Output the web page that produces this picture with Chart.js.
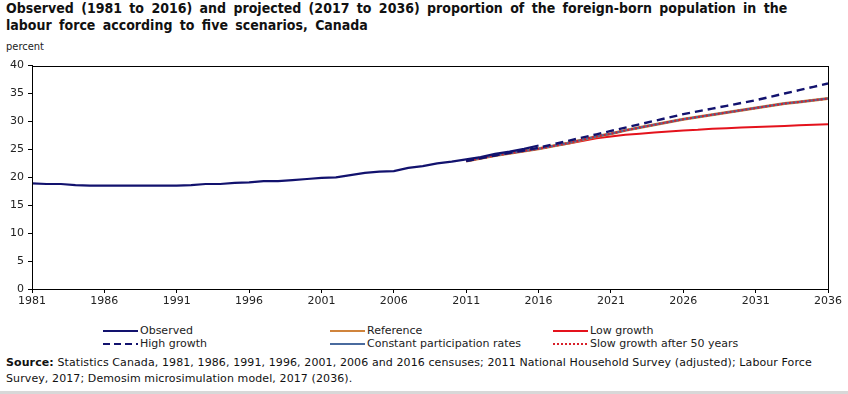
<!DOCTYPE html>
<html><head><meta charset="utf-8">
<script src="https://cdn.jsdelivr.net/npm/chart.js@4.4.1/dist/chart.umd.min.js"></script>
<style>
html,body{margin:0;padding:0;background:#fff;width:848px;height:394px;overflow:hidden;position:relative;font-family:"DejaVu Sans",Verdana,sans-serif;color:#000}
#title{position:absolute;left:6px;top:0px;width:840px;font-family:"DejaVu Sans Condensed","DejaVu Sans",sans-serif;font-weight:bold;font-size:14px;line-height:17px;color:#111;word-spacing:3px;white-space:nowrap}
#unit{position:absolute;left:6px;top:40px;font-family:"DejaVu Sans Condensed",sans-serif;font-size:11px;color:#222}
#wrap{position:absolute;left:0;top:55px;width:848px;height:260px}
#legend{position:absolute;left:0;top:324px;width:848px;height:30px;font-size:11px;color:#222}
.li{position:absolute;height:13px;line-height:13px;white-space:nowrap}
.li svg{position:absolute;left:0;top:0}
.li span{position:absolute;top:0}
#source{position:absolute;left:6px;top:355px;width:842px;font-family:"DejaVu Sans",sans-serif;font-size:11px;line-height:16px;color:#111;white-space:nowrap;letter-spacing:0.1px}
#rule{position:absolute;left:0;top:391px;width:848px;height:3px;background:#d8d8d8}
</style></head>
<body>
<div id="title">Observed (1981 to 2016) and projected (2017 to 2036) proportion of the foreign-born population in the<br>labour force according to five scenarios, Canada</div>
<div id="unit">percent</div>
<div id="wrap"><canvas id="c"></canvas></div>
<div id="legend"></div>
<div id="source"><b>Source:</b> Statistics Canada, 1981, 1986, 1991, 1996, 2001, 2006 and 2016 censuses; 2011 National Household Survey (adjusted); Labour Force<br>Survey, 2017; Demosim microsimulation model, 2017 (2036).</div>
<div id="rule"></div>
<script>
// ---- data ----
const observedYears = [1981,1982,1983,1984,1985,1986,1987,1988,1989,1990,1991,1992,1993,1994,1995,1996,1997,1998,1999,2000,2001,2002,2003,2004,2005,2006,2007,2008,2009,2010,2011,2012,2013,2014,2015,2016];
const observed = [18.9,18.8,18.8,18.6,18.5,18.5,18.5,18.5,18.5,18.5,18.5,18.6,18.8,18.8,19.0,19.1,19.3,19.3,19.5,19.7,19.9,20.0,20.4,20.8,21.0,21.1,21.7,22.0,22.5,22.8,23.2,23.6,24.2,24.6,25.1,25.7];
const projYears = [2011,2012,2013,2014,2015,2016,2017,2018,2019,2020,2021,2022,2023,2024,2025,2026,2027,2028,2029,2030,2031,2032,2033,2034,2035,2036];
const reference = [22.9,23.4,23.9,24.3,24.7,25.1,25.6,26.1,26.7,27.3,27.8,28.4,28.9,29.4,29.9,30.4,30.8,31.2,31.6,32.0,32.4,32.8,33.2,33.5,33.8,34.1];
const constantParticipation = [22.9,23.4,23.9,24.3,24.7,25.1,25.6,26.1,26.7,27.3,27.8,28.4,28.9,29.4,29.9,30.4,30.8,31.2,31.6,32.0,32.4,32.8,33.2,33.5,33.8,34.1];
const slowGrowth50 = [22.9,23.4,23.9,24.3,24.7,25.1,25.6,26.1,26.7,27.3,27.8,28.4,28.9,29.4,29.9,30.4,30.8,31.2,31.6,32.0,32.4,32.8,33.2,33.5,33.8,34.1];
const lowGrowth = [22.9,23.4,23.9,24.3,24.7,25.1,25.6,26.0,26.5,27.0,27.3,27.6,27.8,28.0,28.2,28.4,28.5,28.7,28.8,28.9,29.0,29.1,29.2,29.3,29.4,29.5];
const highGrowth = [22.9,23.4,23.9,24.4,24.8,25.3,25.9,26.5,27.1,27.7,28.3,28.9,29.5,30.1,30.7,31.3,31.8,32.3,32.8,33.3,33.8,34.4,35.0,35.6,36.2,36.8];
const xTicks = [1981,1986,1991,1996,2001,2006,2011,2016,2021,2026,2031,2036];
const yTicks = [0,5,10,15,20,25,30,35,40];

const pts = (xs, ys) => xs.map((x,i)=>({x:x, y:ys[i]}));

const series = [
  {label:'Observed', data:pts(observedYears, observed), color:'#12126e', dash:[], width:2.2, legendCol:0, legendRow:0},
  {label:'High growth', data:pts(projYears, highGrowth), color:'#12126e', dash:[8,5], width:2.4, legendCol:0, legendRow:1},
  {label:'Reference', data:pts(projYears, reference), color:'#d0843c', dash:[], width:3, legendCol:1, legendRow:0},
  {label:'Constant participation rates', data:pts(projYears, constantParticipation), color:'#4a6b9e', dash:[], width:2, legendCol:1, legendRow:1},
  {label:'Low growth', data:pts(projYears, lowGrowth), color:'#e4121c', dash:[], width:2, legendCol:2, legendRow:0},
  {label:'Slow growth after 50 years', data:pts(projYears, slowGrowth50), color:'#d8202a', dash:[2,2], width:2, legendCol:2, legendRow:1},
];

const order = ['Low growth','Reference','Constant participation rates','Slow growth after 50 years','High growth','Observed'];

const datasets = series.map(s=>({
  label:s.label, data:s.data, borderColor:s.color, backgroundColor:s.color,
  borderWidth:s.width, borderDash:s.dash, pointRadius:0, tension:0, fill:false,
  order: order.length - order.indexOf(s.label)
}));

const boxPlugin = {
  id:'box',
  afterDraw(chart){
    const a = chart.chartArea, ctx = chart.ctx;
    ctx.save(); ctx.strokeStyle='#000'; ctx.lineWidth=1;
    ctx.strokeRect(Math.round(a.left)+0.5, Math.round(a.top)+0.5, Math.round(a.right-a.left), Math.round(a.bottom-a.top));
    ctx.restore();
  }
};

new Chart(document.getElementById('c'), {
  type:'line',
  data:{datasets},
  plugins:[boxPlugin],
  options:{
    responsive:true, maintainAspectRatio:false, animation:false,
    layout:{padding:{top:10,right:20,left:0,bottom:0}},
    plugins:{legend:{display:false}, tooltip:{enabled:false}},
    scales:{
      x:{type:'linear', min:1981, max:2036,
        afterBuildTicks(s){ s.ticks = xTicks.map(v=>({value:v})); },
        afterFit(s){ s.height = 26; },
        grid:{display:true, drawOnChartArea:false, drawTicks:true, tickLength:4, color:'#000'},
        border:{display:true, color:'#000'},
        ticks:{autoSkip:false, maxRotation:0, padding:2, color:'#222', font:{family:'DejaVu Sans', size:11}, callback:v=>String(v)}
      },
      y:{type:'linear', min:0, max:40,
        afterBuildTicks(s){ s.ticks = yTicks.map(v=>({value:v})); },
        afterFit(s){ s.width = 32; },
        grid:{display:true, drawOnChartArea:false, drawTicks:true, tickLength:4, color:'#000'},
        border:{display:true, color:'#000'},
        ticks:{padding:4, color:'#222', font:{family:'DejaVu Sans', size:11}}
      }
    }
  }
});

// legend (HTML)
const colX = [103, 330, 553];
const rowY = [0, 13];
const leg = document.getElementById('legend');
series.forEach(s=>{
  const d = document.createElement('div');
  d.className='li';
  d.style.left = colX[s.legendCol]+'px';
  d.style.top = rowY[s.legendRow]+'px';
  const dash = s.dash.length ? `stroke-dasharray="${s.label==='High growth'?'7,4':'2,2'}"` : '';
  d.innerHTML = `<svg width="36" height="13"><line x1="0" y1="7" x2="35" y2="7" stroke="${s.color}" stroke-width="2" ${dash}/></svg><span style="left:37px">${s.label}</span>`;
  leg.appendChild(d);
});
</script>
</body></html>
